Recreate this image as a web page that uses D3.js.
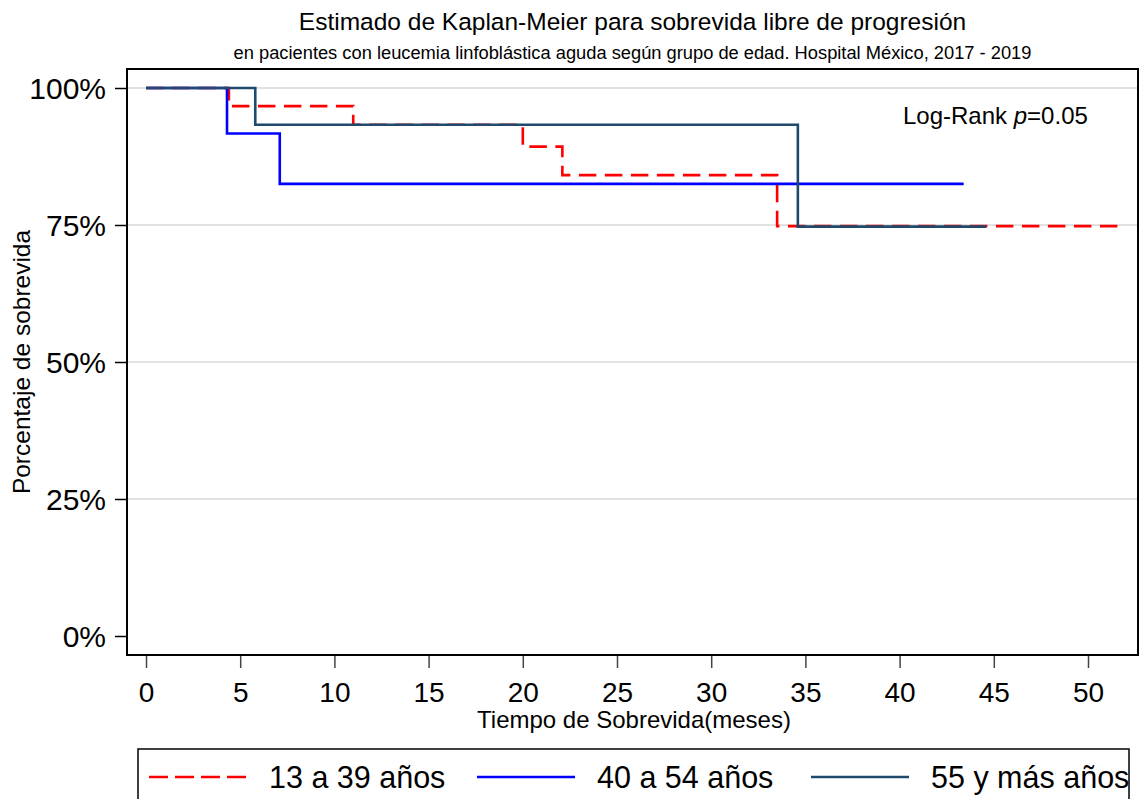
<!DOCTYPE html>
<html>
<head>
<meta charset="utf-8">
<script src="https://cdn.jsdelivr.net/npm/d3@7"></script>
<style>
    body { margin: 0; background: #fff; }
    text { font-family: "Liberation Sans", Arial, sans-serif; fill: #000; }
</style>
</head>
<body>
<div id="chart"></div>
<script>
// step data: time (meses) and survival (%)
const groups = ["13 a 39 años", "40 a 54 años", "55 y más años"];
const colors = ["#ff0000", "#0000ff", "#1f4a6e"];
const dashes = ["17.5,8.5", null, null];

const timesA = [0, 4.4, 11.0, 20.0, 22.1, 33.5, 51.8];
const survA  = [100, 96.7, 93.3, 89.3, 84.1, 74.8, 74.8];

const timesB = [0, 4.3, 7.1, 43.4];
const survB  = [100, 91.7, 82.5, 82.5];

const timesC = [0, 5.8, 34.6, 44.6];
const survC  = [100, 93.3, 74.7, 74.7];

const xTicks = [0, 5, 10, 15, 20, 25, 30, 35, 40, 45, 50];
const yTicks = [0, 25, 50, 75, 100];
const yGrid = [25, 50, 75, 100];

const series = [
    { name: groups[0], t: timesA, s: survA },
    { name: groups[1], t: timesB, s: survB },
    { name: groups[2], t: timesC, s: survC }
];

const width = 1140, height = 799;
const box = { left: 127, right: 1138, top: 69, bottom: 655 };

const svg = d3.select("#chart").append("svg")
    .attr("width", width)
    .attr("height", height);

let x = d3.scaleLinear().domain([0, 50]).range([146, 1088]);
let y = d3.scaleLinear().domain([0, 100]).range([636, 88]);

// titles
svg.append("text")
    .attr("x", (box.left + box.right) / 2).attr("y", 30)
    .attr("text-anchor", "middle")
    .style("font-size", "24.5px")
    .text("Estimado de Kaplan-Meier para sobrevida libre de progresión");

svg.append("text")
    .attr("x", (box.left + box.right) / 2).attr("y", 59)
    .attr("text-anchor", "middle")
    .style("font-size", "18.3px")
    .text("en pacientes con leucemia linfoblástica aguda según grupo de edad. Hospital México, 2017 - 2019");

// grid
svg.append("g").selectAll("line")
    .data(yGrid)
    .enter().append("line")
    .attr("x1", box.left).attr("x2", box.right)
    .attr("y1", d => y(d)).attr("y2", d => y(d))
    .style("stroke", "#e2e2e2")
    .style("stroke-width", 2);

// curves
let line = d3.line()
    .x(d => x(d[0]))
    .y(d => y(d[1]))
    .curve(d3.curveStepAfter);

svg.append("g").selectAll("path")
    .data(series)
    .enter().append("path")
    .attr("d", d => line(d.t.map((t, i) => [t, d.s[i]])))
    .style("fill", "none")
    .style("stroke", (d, i) => colors[i])
    .style("stroke-width", 2.6)
    .style("stroke-dasharray", (d, i) => dashes[i]);

// plot box
svg.append("rect")
    .attr("x", box.left).attr("y", box.top)
    .attr("width", box.right - box.left)
    .attr("height", box.bottom - box.top)
    .style("fill", "none")
    .style("stroke", "#000")
    .style("stroke-width", 2);

// y axis
let yAxis = svg.append("g")
    .attr("transform", "translate(" + box.left + ",0)")
    .call(d3.axisLeft(y).tickValues(yTicks).tickSize(12).tickPadding(9)
        .tickFormat(d => d + "%"));
yAxis.select(".domain").remove();
yAxis.selectAll("line").style("stroke", "#000").style("stroke-width", 1.5);
yAxis.selectAll("text")
    .style("font-size", "30px")
    .style("font-family", "'Liberation Sans', Arial, sans-serif")
    .attr("dy", "0.35em");

// x axis
let xAxis = svg.append("g")
    .attr("transform", "translate(0," + (box.bottom + 1) + ")")
    .call(d3.axisBottom(x).tickValues(xTicks).tickSize(12).tickPadding(14));
xAxis.select(".domain").remove();
xAxis.selectAll("line").style("stroke", "#444").style("stroke-width", 1.5);
xAxis.selectAll("text")
    .style("font-size", "28px")
    .style("font-family", "'Liberation Sans', Arial, sans-serif");

svg.append("text")
    .attr("x", 634).attr("y", 728)
    .attr("text-anchor", "middle")
    .style("font-size", "24px")
    .text("Tiempo de Sobrevida(meses)");

svg.append("text")
    .attr("transform", "translate(30," + ((y(0) + y(100)) / 2) + ") rotate(-90)")
    .attr("text-anchor", "middle")
    .style("font-size", "24.5px")
    .text("Porcentaje de sobrevida");

// log-rank annotation
let lr = svg.append("text")
    .attr("x", 903).attr("y", 124)
    .style("font-size", "24px");
lr.append("tspan").text("Log-Rank ");
lr.append("tspan").style("font-style", "italic").text("p");
lr.append("tspan").text("=0.05");

// legend
svg.append("rect")
    .attr("x", 138).attr("y", 749)
    .attr("width", 991).attr("height", 80)
    .style("fill", "#fff")
    .style("stroke", "#000")
    .style("stroke-width", 1.5);

let legendX = [149, 477, 811];
let leg = svg.append("g").selectAll("g")
    .data(series)
    .enter().append("g")
    .attr("transform", (d, i) => "translate(" + legendX[i] + ",777)");

leg.append("line")
    .attr("x1", 0).attr("x2", 98)
    .style("stroke", (d, i) => colors[i])
    .style("stroke-width", 2.6)
    .style("stroke-dasharray", (d, i) => dashes[i] ? "19,7" : null);

leg.append("text")
    .attr("x", 120)
    .attr("y", 11)
    .style("font-size", "30.5px")
    .text(d => d.name);
</script>
</body>
</html>
